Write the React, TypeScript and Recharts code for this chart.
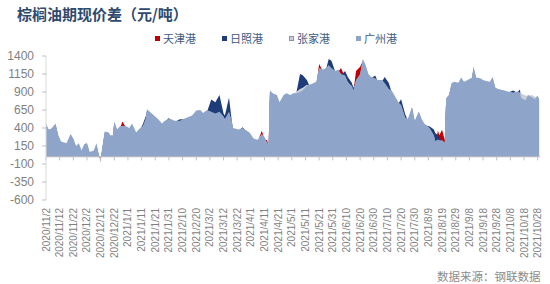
import { AreaChart, Area, XAxis, YAxis, ReferenceLine, Legend } from "recharts";

// day offsets from 2020/11/2
const days = [
  0, 2, 4, 7, 9, 11, 15, 18, 20, 22,
  24, 26, 28, 30, 32, 35, 37, 38, 40, 41,
  43, 46, 47, 49, 50, 52, 54, 56, 59, 61,
  63, 66, 69, 71, 73, 74, 77, 80, 82, 85,
  87, 90, 91, 94, 98, 102, 107, 110, 113, 115,
  118, 121, 124, 127, 130, 131, 134, 136, 137, 141,
  144, 147, 149, 152, 155, 158, 160, 162, 163, 164,
  166, 169, 171, 174, 176, 179, 181, 183, 186, 188,
  191, 193, 196, 198, 200, 203, 205, 207, 209, 212,
  214, 216, 219, 221, 224, 225, 227, 230, 232, 234,
  236, 238, 241, 243, 246, 248, 251, 253, 255, 258,
  260, 263, 265, 268, 270, 273, 275, 277, 281, 284,
  285, 287, 288, 290, 292, 293, 295, 297, 299, 302,
  304, 306, 308, 310, 312, 313, 315, 318, 320, 323,
  325, 327, 329, 331, 335, 338, 342, 345, 347, 348,
  351, 353, 356, 358, 360, 361,
];

const tianjin = [
  432, 350, 362, 432, 270, 182, 157, 287, 224, 120,
  157, 57, 145, 160, 37, 57, 157, 57, -40, 70,
  320, 307, 270, 270, 462, 350, 390, 492, 390, 370,
  432, 307, 370, 400, 495, 632, 578, 530, 495, 432,
  470, 495, 500, 470, 470, 507, 545, 612, 620, 578,
  620, 595, 570, 595, 530, 495, 595, 457, 370, 350,
  370, 332, 307, 224, 207, 362, 245, 230, 130, 891,
  853, 828, 728, 828, 853, 828, 853, 850, 870, 895,
  953, 970, 995, 1012, 1290, 1182, 1203, 1245, 1203, 1162,
  1182, 1233, 1100, 995, 953, 891, 1192, 1250, 1328, 1245,
  1120, 1078, 1060, 1037, 1037, 995, 912, 890, 828, 728,
  690, 516, 495, 662, 470, 599, 495, 432, 370, 270,
  190, 362, 300, 375, 230, 787, 828, 995, 1012, 1000,
  1070, 1012, 1030, 1050, 1070, 1224, 1070, 1060, 1037, 1020,
  1012, 1078, 932, 912, 895, 878, 862, 878, 862, 787,
  753, 828, 795, 770, 820, 770,
];

const rizhao = [
  442, 360, 372, 442, 280, 192, 167, 297, 234, 130,
  167, 67, 155, 170, 47, 67, 167, 67, -50, 80,
  330, 317, 280, 280, 472, 360, 400, 410, 400, 380,
  442, 317, 380, 460, 560, 642, 588, 540, 505, 442,
  480, 540, 510, 480, 520, 517, 555, 622, 630, 588,
  630, 796, 758, 858, 600, 575, 825, 500, 380, 360,
  410, 342, 317, 234, 217, 297, 255, 170, 140, 901,
  863, 838, 738, 838, 863, 838, 863, 860, 1150, 1133,
  1067, 980, 1005, 1022, 1213, 1192, 1213, 1358, 1333, 1172,
  1192, 1130, 1192, 1108, 1025, 960, 1047, 1130, 1338, 1255,
  1130, 1088, 1130, 1047, 1047, 1108, 1025, 900, 838, 738,
  800, 590, 505, 672, 480, 609, 505, 442, 420, 380,
  330, 300, 260, 210, 180, 797, 838, 1005, 1022, 1010,
  1080, 1022, 1040, 1060, 1080, 1234, 1080, 1070, 1047, 1030,
  1022, 1088, 942, 922, 905, 888, 920, 888, 933, 797,
  763, 838, 805, 780, 830, 780,
];

const zhangjiagang = [
  452, 370, 382, 452, 290, 202, 177, 307, 244, 140,
  177, 77, 165, 180, 57, 77, 177, 77, -60, 90,
  340, 327, 290, 290, 482, 370, 410, 420, 410, 390,
  452, 327, 390, 420, 515, 652, 598, 550, 515, 452,
  490, 515, 520, 490, 490, 527, 565, 632, 640, 598,
  640, 615, 590, 615, 550, 515, 615, 477, 390, 370,
  390, 352, 327, 244, 227, 307, 265, 180, 150, 911,
  873, 848, 748, 848, 873, 848, 873, 900, 940, 960,
  1000, 990, 1015, 1032, 1223, 1202, 1223, 1265, 1223, 1182,
  1202, 1140, 1120, 1040, 973, 911, 1057, 1140, 1348, 1265,
  1140, 1098, 1080, 1057, 1057, 1015, 932, 910, 848, 748,
  710, 536, 515, 682, 490, 619, 515, 452, 390, 290,
  210, 230, 220, 220, 190, 807, 848, 1015, 1032, 1020,
  1090, 1032, 1050, 1070, 1090, 1244, 1090, 1080, 1057, 1040,
  1032, 1098, 952, 932, 915, 898, 882, 898, 882, 880,
  850, 848, 860, 830, 840, 790,
];

const guangzhou = [
  462, 380, 392, 462, 300, 212, 187, 317, 254, 150,
  187, 87, 175, 190, 67, 87, 187, 87, -80, 100,
  350, 337, 300, 300, 492, 380, 420, 430, 420, 400,
  462, 337, 400, 430, 525, 662, 608, 560, 525, 462,
  500, 525, 530, 500, 500, 537, 575, 642, 650, 608,
  650, 625, 600, 625, 560, 525, 625, 487, 400, 380,
  400, 362, 337, 254, 237, 317, 275, 190, 175, 921,
  883, 858, 758, 858, 883, 858, 883, 880, 900, 925,
  983, 1000, 1025, 1042, 1233, 1212, 1233, 1275, 1233, 1192,
  1212, 1150, 1130, 1025, 983, 921, 1067, 1150, 1358, 1275,
  1150, 1108, 1090, 1067, 1067, 1025, 942, 920, 858, 758,
  720, 546, 525, 692, 500, 629, 525, 462, 400, 300,
  220, 240, 230, 230, 200, 817, 858, 1025, 1042, 1030,
  1100, 1042, 1060, 1080, 1100, 1254, 1100, 1090, 1067, 1050,
  1042, 1108, 962, 942, 925, 908, 892, 908, 892, 817,
  783, 858, 825, 800, 850, 800,
];

const tickLabels = [
  "2020/11/2", "2020/11/12", "2020/11/22", "2020/12/2", "2020/12/12", "2020/12/22",
  "2021/1/1", "2021/1/11", "2021/1/21", "2021/1/31", "2021/2/10", "2021/2/20",
  "2021/3/2", "2021/3/12", "2021/3/22", "2021/4/1", "2021/4/11", "2021/4/21",
  "2021/5/1", "2021/5/11", "2021/5/21", "2021/5/31", "2021/6/10", "2021/6/20",
  "2021/6/30", "2021/7/10", "2021/7/20", "2021/7/30", "2021/8/9", "2021/8/19",
  "2021/8/29", "2021/9/8", "2021/9/18", "2021/9/28", "2021/10/8", "2021/10/18",
  "2021/10/28",
];
const tickDays = tickLabels.map((_, i) => i * 10);
const yTicks = [-600, -350, -100, 150, 400, 650, 900, 1150, 1400];

const series = [
  { key: "tj", name: "天津港", color: "#C00000" },
  { key: "rz", name: "日照港", color: "#1F3C7A" },
  { key: "zjg", name: "张家港", color: "#C9CED8" },
  { key: "gz", name: "广州港", color: "#8EA4C9" },
];

const data = days.map((d, i) => ({
  day: d,
  tj: tianjin[i],
  rz: rizhao[i],
  zjg: zhangjiagang[i],
  gz: guangzhou[i],
}));

const cjk = '"Noto Sans CJK SC", sans-serif';
const latin = '"Liberation Sans", Arial, sans-serif';

function DateTick(props: any) {
  const { x, y, payload } = props;
  const idx = tickDays.indexOf(payload.value);
  return (
    <text
      x={x}
      y={y}
      transform={`rotate(-90, ${x}, ${y})`}
      textAnchor="end"
      dy="0.35em"
      fontSize={10}
      fontFamily={latin}
      fill="#7f7f7f"
    >
      {tickLabels[idx]}
    </text>
  );
}

function LegendBox() {
  return (
    <div style={{ display: "flex", fontFamily: cjk, fontSize: 11, color: "#3E5A80" }}>
      {series.map((s) => (
        <div key={s.key} style={{ display: "flex", alignItems: "center", width: 67 }}>
          <span
            style={{
              display: "inline-block",
              width: 5,
              height: 5,
              marginRight: 3,
              background: s.color,
              border: s.key === "zjg" ? "1px solid #8a93a3" : "none",
              boxSizing: "border-box",
            }}
          />
          <span>{s.name}</span>
        </div>
      ))}
    </div>
  );
}

export default function App() {
  return (
    <div style={{ position: "absolute", left: 0, top: 0, width: 550, height: 284, background: "#fff" }}>
      <div
        style={{
          position: "absolute",
          left: 17,
          top: 3,
          fontFamily: cjk,
          fontWeight: 700,
          fontSize: 15,
          color: "#2F4A6D",
          whiteSpace: "nowrap",
        }}
      >
        棕榈油期现价差（元/吨）
      </div>
      <AreaChart width={550} height={284} data={data} margin={{ top: 40, right: 9.6, bottom: 14, left: 0 }}>
        <XAxis
          dataKey="day"
          type="number"
          domain={[0, 362]}
          ticks={tickDays}
          interval={0}
          axisLine={false}
          tickLine={false}
          tickSize={6}
          tickMargin={2}
          height={70}
          tick={<DateTick />}
        />
        <YAxis
          type="number"
          domain={[-600, 1400]}
          ticks={yTicks}
          interval={0}
          width={46}
          axisLine={{ stroke: "#d9d9d9" }}
          tickLine={{ stroke: "#bfbfbf" }}
          tickSize={4}
          tickMargin={8}
          tick={{ fontSize: 12, fill: "#7f7f7f", fontFamily: latin }}
        />
        <Legend
          verticalAlign="top"
          content={<LegendBox />}
          wrapperStyle={{ position: "absolute", top: 30, left: 155, width: 280 }}
        />
        {series.map((s) => (
          <Area
            key={s.key}
            dataKey={s.key}
            name={s.name}
            type="linear"
            stroke="none"
            fill={s.color}
            fillOpacity={1}
            isAnimationActive={false}
          />
        ))}
        <ReferenceLine y={0} stroke="#bfbfbf" />
        {tickDays.map((d) => (
          <ReferenceLine
            key={d}
            segment={[
              { x: d, y: 0 },
              { x: d, y: -50 },
            ]}
            stroke="#bfbfbf"
          />
        ))}
      </AreaChart>
      <div
        style={{
          position: "absolute",
          left: 437,
          top: 268,
          fontFamily: cjk,
          fontSize: 11.5,
          color: "#8c8c8c",
          whiteSpace: "nowrap",
        }}
      >
        数据来源：钢联数据
      </div>
    </div>
  );
}
